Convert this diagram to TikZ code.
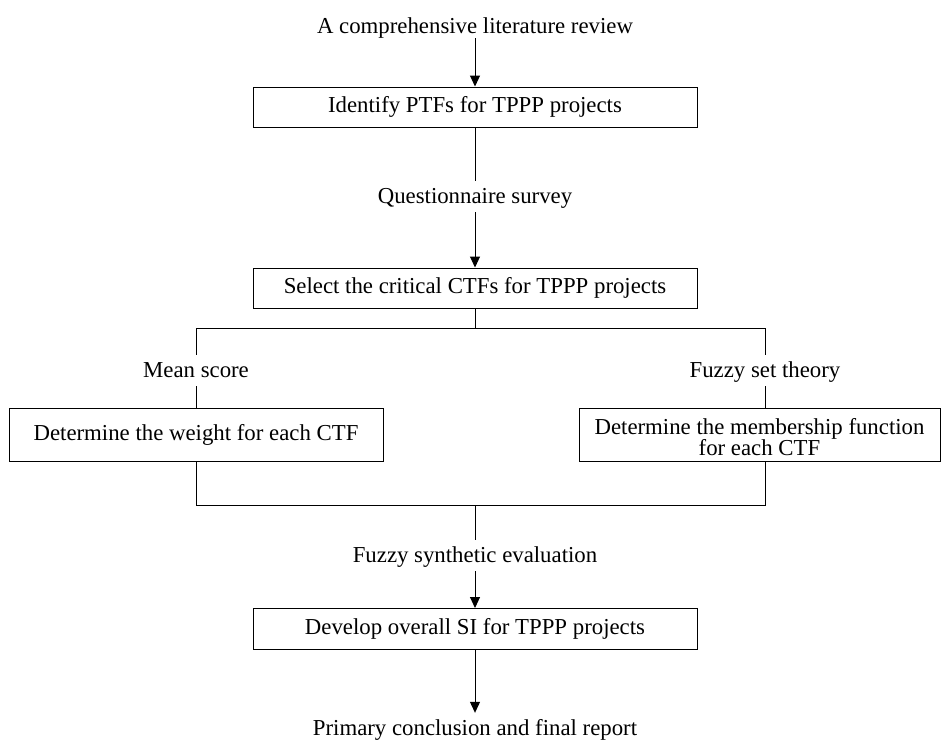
\documentclass[tikz,border=0pt]{standalone}
\usepackage{fontspec}
\setmainfont{Liberation Serif}
\usetikzlibrary{arrows.meta}
\begin{document}
\begin{tikzpicture}[x=1pt, y=-1pt,
  every node/.style={font=\fontsize{22.8}{25}\selectfont},
  boxbase/.style={draw, line width=1pt, align=center, inner sep=0pt},
  flowbox/.style={boxbase, text height=16pt, text depth=5pt},
  steplabel/.style={inner xsep=2pt, inner ysep=4pt, text height=18pt, text depth=5pt, anchor=base},
  conn/.style={line width=1pt},
  arr/.style={conn, -{Triangle[length=11pt, width=10pt]}}]
  \useasboundingbox (0,0) rectangle (941,740);

  % top of the flow
  \node[anchor=base, inner sep=0pt, text depth=5pt] (lit) at (475,33) {A comprehensive literature review};
  \node[flowbox, minimum width=444pt, minimum height=40pt] (ptf) at (475,107) {Identify PTFs for TPPP projects};
  \node[steplabel] (qs) at (475,203) {Questionnaire survey};
  \node[flowbox, minimum width=444pt, minimum height=40pt] (ctf) at (475,288) {Select the critical CTFs for TPPP projects};

  % split into two branches
  \coordinate (jc) at (475,328);
  \coordinate (jl) at (196,328);
  \coordinate (jr) at (765,328);
  \node[steplabel] (ms) at (196,377) {Mean score};
  \node[steplabel] (fst) at (765,377) {Fuzzy set theory};
  \node[flowbox, minimum width=374pt, minimum height=53pt] (wt) at (196,434.5) {Determine the weight for each CTF};
  \node[boxbase, minimum width=361pt, minimum height=53pt] (mf) at (759.5,434.5)
    {\raisebox{-11pt}[0pt][0pt]{\begin{tabular}{@{}c@{}}Determine the membership function\\[-4pt]for each CTF\end{tabular}}};

  % merge
  \coordinate (bl) at (196,505);
  \coordinate (br) at (765,505);
  \coordinate (bc) at (475,505);
  \node[steplabel] (fse) at (475,562) {Fuzzy synthetic evaluation};
  \node[flowbox, minimum width=444pt, minimum height=41pt] (si) at (475,629) {Develop overall SI for TPPP projects};
  \node[steplabel] (fin) at (475,735) {Primary conclusion and final report};

  % connectors
  \draw[arr] (lit) -- (ptf);
  \draw[conn] (ptf) -- (qs);
  \draw[arr] (qs) -- (ctf);
  \draw[conn] (ctf) -- (jc);
  \draw[conn] (jl) -- (jr);
  \draw[conn] (jl) -- (ms);
  \draw[conn] (jr) -- (fst);
  \draw[conn] (ms) -- (wt);
  \draw[conn] (fst.south) -- (fst.south |- mf.north);
  \draw[conn] (wt.south) -- (bl) -- (br) -- (br |- mf.south);
  \draw[conn] (bc) -- (fse);
  \draw[arr] (fse) -- (si);
  \draw[arr] (si) -- (fin);
\end{tikzpicture}
\end{document}
